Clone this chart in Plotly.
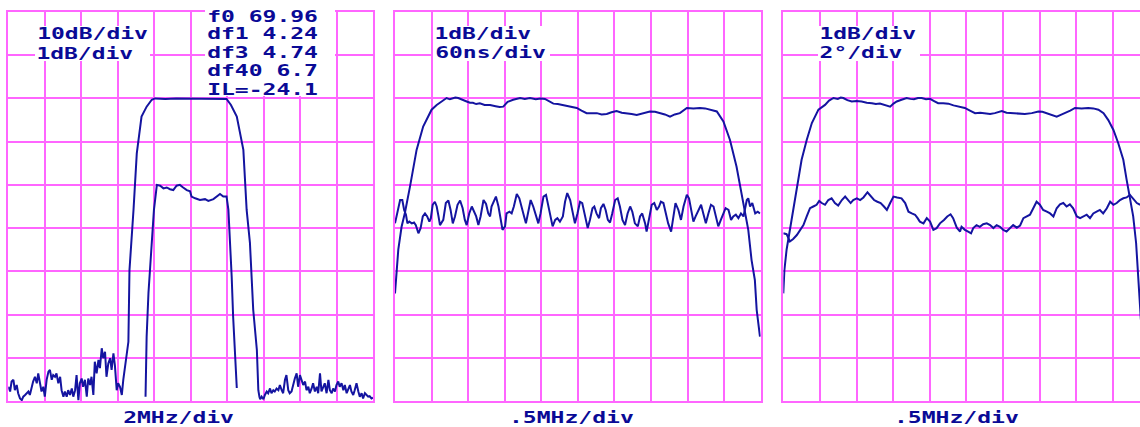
import plotly.graph_objects as go

# ---------------- data (units: screen divisions) ----------------
# Panel 1: 2 MHz/div; wide trace 10 dB/div, narrow trace 1 dB/div
p1_wide_x = [0.00, 0.05, 0.09, 0.14, 0.18, 0.23, 0.27, 0.32, 0.37, 0.41, 0.46, 0.50, 0.55, 0.59, 0.64,
             0.68, 0.73, 0.78, 0.82, 0.87, 0.91, 0.96, 1.00, 1.05, 1.10, 1.14, 1.19, 1.23, 1.28, 1.32,
             1.37, 1.42, 1.46, 1.51, 1.55, 1.60, 1.64, 1.69, 1.74, 1.78, 1.83, 1.87, 1.92, 1.96, 2.01,
             2.05, 2.10, 2.15, 2.19, 2.24, 2.28, 2.33, 2.37, 2.42, 2.47, 2.51, 2.56, 2.60, 2.65, 2.69,
             2.74, 2.79, 2.83, 2.88, 2.92, 2.97, 3.01, 3.06, 3.11, 3.15, 3.20, 3.24, 3.29,
             3.32, 3.38, 3.43, 3.52, 3.56, 3.65, 3.79, 3.93, 4.02, 4.30, 4.60, 5.00, 5.40, 5.70, 5.98,
             6.10, 6.26, 6.44, 6.53, 6.62, 6.71, 6.81, 6.85, 6.88,
             6.90, 6.94, 6.99, 7.03, 7.08, 7.12, 7.17, 7.21, 7.26, 7.30, 7.35, 7.40, 7.44, 7.49, 7.53,
             7.58, 7.62, 7.67, 7.71, 7.76, 7.81, 7.85, 7.90, 7.94, 7.99, 8.03, 8.08, 8.13, 8.17, 8.22,
             8.26, 8.31, 8.35, 8.40, 8.45, 8.49, 8.54, 8.58, 8.63, 8.67, 8.72, 8.77, 8.81, 8.86, 8.90,
             8.95, 8.99, 9.04, 9.08, 9.13, 9.18, 9.22, 9.27, 9.31, 9.36, 9.40, 9.45, 9.49, 9.54, 9.59,
             9.63, 9.68, 9.72, 9.77, 9.81, 9.86, 9.90, 9.95, 9.99]
p1_wide_y = [0.33, 0.22, 0.45, 0.49, 0.25, 0.37, 0.18, 0.06, 0.02, 0.10, 0.14, 0.18, 0.22, 0.14, 0.33,
             0.45, 0.56, 0.41, 0.64, 0.41, 0.22, 0.33, 0.10, 0.49, 0.68, 0.72, 0.49, 0.60, 0.56, 0.64,
             0.41, 0.56, 0.25, 0.10, 0.22, 0.10, 0.25, 0.14, 0.29, 0.10, 0.25, 0.60, 0.02, 0.41, 0.52,
             0.33, 0.49, 0.10, 0.52, 0.37, 0.56, 0.14, 0.91, 0.64, 0.95, 0.76, 1.22, 0.99, 1.14, 0.56,
             0.87, 0.99, 0.72, 1.10, 0.83, 0.25, 0.41, 0.33, 0.14, 0.49, 0.79, 1.10, 1.37,
             3.03, 3.96, 4.42, 5.73, 6.04, 6.58, 6.81, 6.97, 7.00, 6.99, 7.00, 7.00, 7.00, 6.99, 6.99,
             6.85, 6.58, 5.81, 4.42, 3.66, 2.11, 1.18, 0.25, 0.10,
             0.04, 0.10, 0.04, 0.14, 0.22, 0.18, 0.29, 0.18, 0.25, 0.22, 0.29, 0.25, 0.37, 0.25, 0.18,
             0.49, 0.60, 0.25, 0.18, 0.22, 0.41, 0.52, 0.64, 0.33, 0.60, 0.49, 0.37, 0.45, 0.25, 0.33,
             0.18, 0.29, 0.41, 0.22, 0.33, 0.18, 0.64, 0.22, 0.33, 0.41, 0.18, 0.49, 0.25, 0.18, 0.29,
             0.22, 0.37, 0.45, 0.33, 0.41, 0.25, 0.37, 0.18, 0.29, 0.37, 0.22, 0.14, 0.25, 0.41, 0.22,
             0.10, 0.18, 0.06, 0.18, 0.14, 0.10, 0.11, 0.06, 0.08]
p1_narrow_x = [3.76, 3.79, 3.84, 3.93, 3.99, 4.07, 4.16, 4.25, 4.34, 4.43, 4.52, 4.61, 4.70, 4.79, 4.89,
               4.98, 5.02, 5.12, 5.25, 5.39, 5.48, 5.62, 5.71, 5.80, 5.89, 5.98, 6.03, 6.07, 6.12, 6.16,
               6.21, 6.26]
p1_narrow_y = [0.10, 1.49, 2.50, 3.66, 4.42, 5.00, 4.98, 4.92, 4.94, 4.90, 4.88, 4.98, 5.00, 4.94, 4.88,
               4.85, 4.73, 4.69, 4.65, 4.67, 4.63, 4.67, 4.73, 4.79, 4.73, 4.73, 4.42, 3.80, 2.88, 1.95,
               0.95, 0.30]

# Panel 2: 0.5 MHz/div; amplitude 1 dB/div, group delay 60 ns/div
p2_amp_x = [0.00, 0.05, 0.09, 0.18, 0.27, 0.41, 0.59, 0.77, 1.00, 1.14, 1.28, 1.41, 1.50, 1.56, 1.65,
            1.73, 1.85, 1.96, 2.05, 2.13, 2.22, 2.32, 2.45, 2.60, 2.75, 2.86, 2.96, 3.08, 3.23, 3.32,
            3.42, 3.55, 3.69, 3.85, 3.98, 4.10, 4.20, 4.33, 4.45, 4.59, 4.72, 4.85, 4.97, 5.10, 5.24,
            5.38, 5.52, 5.65, 5.79, 5.92, 6.06, 6.20, 6.34, 6.47, 6.61, 6.79, 6.97, 7.11, 7.25, 7.38,
            7.52, 7.65, 7.79, 7.98, 8.16, 8.34, 8.48, 8.61, 8.80, 8.98, 9.16, 9.34, 9.48, 9.57, 9.66,
            9.75, 9.84, 9.89, 9.98]
p2_amp_y = [2.49, 3.03, 3.50, 4.03, 4.35, 4.96, 5.81, 6.35, 6.74, 6.85, 6.94, 7.01, 6.98, 6.99, 7.02,
            7.01, 6.96, 6.93, 6.90, 6.90, 6.87, 6.89, 6.85, 6.85, 6.82, 6.80, 6.81, 6.92, 6.97, 6.99,
            7.01, 6.99, 7.01, 6.98, 7.00, 6.99, 6.95, 6.88, 6.87, 6.85, 6.83, 6.80, 6.78, 6.72, 6.66,
            6.66, 6.66, 6.63, 6.64, 6.68, 6.71, 6.67, 6.66, 6.64, 6.62, 6.66, 6.70, 6.69, 6.66, 6.63,
            6.58, 6.63, 6.66, 6.78, 6.77, 6.78, 6.77, 6.74, 6.70, 6.47, 6.04, 5.42, 4.81, 4.35, 3.96,
            3.26, 2.80, 2.11, 1.49]
p2_delay_x = [0.00, 0.06, 0.14, 0.20, 0.25, 0.30, 0.34, 0.39, 0.46, 0.52, 0.57, 0.64, 0.70, 0.76, 0.82,
              0.88, 0.94, 0.98, 1.03, 1.09, 1.14, 1.19, 1.23, 1.32, 1.39, 1.46, 1.52, 1.58, 1.64, 1.71,
              1.78, 1.85, 1.91, 1.96, 2.03, 2.10, 2.16, 2.22, 2.28, 2.34, 2.42, 2.49, 2.55, 2.60, 2.64,
              2.76, 2.83, 2.89, 2.94, 3.01, 3.05, 3.13, 3.19, 3.25, 3.33, 3.40, 3.46, 3.53, 3.58, 3.65,
              3.71, 3.78, 3.86, 3.92, 3.98, 4.06, 4.13, 4.19, 4.26, 4.31, 4.38, 4.44, 4.51, 4.59, 4.65,
              4.71, 4.79, 4.86, 4.92, 4.99, 5.06, 5.12, 5.20, 5.27, 5.33, 5.40, 5.45, 5.51, 5.58, 5.63,
              5.70, 5.76, 5.82, 5.88, 5.94, 6.02, 6.09, 6.15, 6.22, 6.29, 6.36, 6.43, 6.49, 6.56, 6.64,
              6.70, 6.76, 6.84, 6.88, 6.95, 7.02, 7.09, 7.16, 7.22, 7.27, 7.34, 7.40, 7.47, 7.55, 7.61,
              7.67, 7.75, 7.82, 7.89, 7.98, 8.04, 8.09, 8.16, 8.22, 8.30, 8.37, 8.43, 8.50, 8.57, 8.64,
              8.71, 8.77, 8.84, 8.91, 8.98, 9.04, 9.12, 9.19, 9.25, 9.32, 9.39, 9.46, 9.53, 9.57, 9.62,
              9.66, 9.71, 9.77, 9.85, 9.92, 9.98]
p2_delay_y = [4.11, 4.38, 4.65, 4.65, 4.42, 4.31, 4.11, 4.15, 4.11, 4.13, 4.07, 3.88, 4.00, 4.27, 4.34,
              4.27, 4.15, 4.23, 4.54, 4.61, 4.50, 4.27, 4.07, 4.19, 4.58, 4.64, 4.42, 4.11, 4.27, 4.54,
              4.64, 4.46, 4.19, 4.07, 4.34, 4.50, 4.38, 4.27, 4.07, 4.27, 4.65, 4.56, 4.34, 4.27, 4.50,
              4.73, 4.50, 4.19, 3.96, 4.04, 4.34, 4.38, 4.34, 4.50, 4.79, 4.69, 4.46, 4.27, 4.11, 4.42,
              4.65, 4.50, 4.27, 4.11, 4.34, 4.73, 4.77, 4.50, 4.27, 4.04, 4.19, 4.23, 4.15, 4.27, 4.61,
              4.81, 4.65, 4.34, 4.11, 4.34, 4.61, 4.58, 4.27, 4.00, 4.19, 4.46, 4.50, 4.34, 4.23, 4.46,
              4.56, 4.42, 4.19, 4.13, 4.34, 4.65, 4.69, 4.50, 4.19, 4.07, 4.34, 4.50, 4.38, 4.11, 4.04,
              4.27, 4.34, 4.11, 3.92, 4.19, 4.54, 4.58, 4.42, 4.50, 4.61, 4.58, 4.34, 4.11, 3.92, 4.27,
              4.58, 4.42, 4.19, 4.50, 4.77, 4.69, 4.42, 4.15, 4.27, 4.42, 4.54, 4.34, 4.11, 4.34, 4.54,
              4.50, 4.31, 4.04, 4.19, 4.34, 4.46, 4.42, 4.19, 4.27, 4.31, 4.23, 4.34, 4.27, 4.46, 4.65,
              4.69, 4.50, 4.58, 4.34, 4.38, 4.34]

# Panel 3: 0.5 MHz/div; amplitude 1 dB/div, phase deviation 2 deg/div
p3_amp_x = [0.00, 0.03, 0.09, 0.18, 0.23, 0.37, 0.50, 0.64, 0.78, 0.96, 1.14, 1.25, 1.37, 1.49, 1.57,
            1.64, 1.75, 1.87, 2.00, 2.14, 2.28, 2.42, 2.53, 2.64, 2.78, 2.92, 3.01, 3.10, 3.23, 3.37,
            3.47, 3.57, 3.68, 3.78, 3.90, 4.01, 4.12, 4.23, 4.37, 4.51, 4.65, 4.78, 4.96, 5.10, 5.24,
            5.38, 5.51, 5.65, 5.78, 5.97, 6.10, 6.24, 6.42, 6.60, 6.79, 6.97, 7.08, 7.20, 7.33, 7.47,
            7.58, 7.70, 7.84, 7.97, 8.15, 8.33, 8.47, 8.61, 8.75, 8.88, 9.02, 9.15, 9.29, 9.38, 9.47,
            9.56, 9.64, 9.70, 9.74, 9.77]
p3_amp_y = [2.49, 3.03, 3.50, 3.96, 4.19, 4.96, 5.58, 6.04, 6.43, 6.74, 6.85, 6.95, 7.01, 6.99, 7.02,
            7.01, 6.96, 6.93, 6.94, 6.93, 6.90, 6.89, 6.87, 6.88, 6.84, 6.81, 6.88, 6.93, 6.97, 7.01,
            6.99, 6.98, 7.01, 7.01, 6.98, 6.99, 6.94, 6.89, 6.89, 6.88, 6.84, 6.81, 6.78, 6.72, 6.66,
            6.67, 6.66, 6.64, 6.66, 6.71, 6.67, 6.66, 6.64, 6.64, 6.66, 6.70, 6.69, 6.66, 6.62, 6.58,
            6.62, 6.66, 6.72, 6.78, 6.77, 6.78, 6.77, 6.74, 6.66, 6.50, 6.27, 5.97, 5.58, 5.12, 4.65,
            4.27, 3.65, 2.88, 2.34, 1.88]
p3_phase_x = [0.00, 0.09, 0.18, 0.27, 0.37, 0.46, 0.55, 0.64, 0.73, 0.82, 0.91, 0.98, 1.05, 1.14, 1.23,
              1.32, 1.41, 1.50, 1.60, 1.69, 1.78, 1.84, 1.91, 2.01, 2.10, 2.19, 2.30, 2.39, 2.48, 2.57,
              2.66, 2.75, 2.83, 2.92, 3.01, 3.11, 3.23, 3.33, 3.42, 3.51, 3.60, 3.67, 3.73, 3.83, 3.92,
              4.01, 4.10, 4.19, 4.28, 4.39, 4.48, 4.57, 4.64, 4.74, 4.83, 4.87, 4.96, 5.05, 5.13, 5.19,
              5.28, 5.37, 5.46, 5.56, 5.65, 5.74, 5.83, 5.92, 6.01, 6.10, 6.19, 6.28, 6.38, 6.47, 6.56,
              6.65, 6.74, 6.83, 6.92, 7.01, 7.10, 7.20, 7.29, 7.38, 7.47, 7.56, 7.65, 7.74, 7.83, 7.92,
              8.02, 8.11, 8.20, 8.29, 8.38, 8.47, 8.56, 8.65, 8.74, 8.84, 8.93, 9.02, 9.11, 9.20, 9.29,
              9.38, 9.47, 9.56, 9.66, 9.75]
p3_phase_y = [3.88, 3.86, 3.69, 3.75, 3.84, 3.96, 4.07, 4.27, 4.46, 4.50, 4.54, 4.63, 4.58, 4.54, 4.65,
              4.69, 4.58, 4.52, 4.65, 4.73, 4.65, 4.58, 4.65, 4.69, 4.65, 4.71, 4.83, 4.73, 4.65, 4.61,
              4.58, 4.50, 4.42, 4.58, 4.73, 4.71, 4.69, 4.58, 4.38, 4.34, 4.31, 4.23, 4.15, 4.11, 4.23,
              4.15, 3.96, 4.00, 4.11, 4.19, 4.27, 4.32, 4.23, 4.01, 3.92, 4.03, 3.96, 3.92, 3.88, 4.00,
              4.07, 4.03, 4.09, 4.11, 4.07, 4.00, 4.07, 4.03, 3.96, 3.92, 4.00, 4.07, 4.01, 4.06, 4.23,
              4.27, 4.31, 4.46, 4.61, 4.54, 4.42, 4.38, 4.34, 4.27, 4.46, 4.55, 4.58, 4.50, 4.55, 4.46,
              4.27, 4.23, 4.27, 4.31, 4.23, 4.34, 4.38, 4.42, 4.34, 4.46, 4.61, 4.54, 4.58, 4.65, 4.69,
              4.71, 4.77, 4.69, 4.58, 4.54]

# Screen annotations
p1_scale_left = ["10dB/div", "1dB/div"]
p1_readout = ["f0 69.96", "df1 4.24", "df3 4.74", "df40 6.7", "IL=-24.1"]
p2_scale = ["1dB/div", "60ns/div"]
p3_scale = ["1dB/div", "2°/div"]
x_scales = ["2MHz/div", ".5MHz/div", ".5MHz/div"]

# ---------------- figure ----------------
GRID = "#FF66FF"
TRACE = "#1414A0"
TEXT = "#0A0A96"
W, H = 1140, 427
FS = 16            # font size
ADV = 14.1         # character pitch of the instrument font (px)
GAP = 2.0          # blank after the last glyph in a cell

fig = go.Figure()
line = dict(color=TRACE, width=2)
fig.add_trace(go.Scatter(x=p1_wide_x, y=p1_wide_y, mode="lines", line=line, xaxis="x", yaxis="y"))
fig.add_trace(go.Scatter(x=p1_narrow_x, y=p1_narrow_y, mode="lines", line=line, xaxis="x", yaxis="y"))
fig.add_trace(go.Scatter(x=p2_amp_x, y=p2_amp_y, mode="lines", line=line, xaxis="x2", yaxis="y2"))
fig.add_trace(go.Scatter(x=p2_delay_x, y=p2_delay_y, mode="lines", line=line, xaxis="x2", yaxis="y2"))
fig.add_trace(go.Scatter(x=p3_amp_x, y=p3_amp_y, mode="lines", line=line, xaxis="x3", yaxis="y3"))
fig.add_trace(go.Scatter(x=p3_phase_x, y=p3_phase_y, mode="lines", line=line, xaxis="x3", yaxis="y3"))

ytop, ybot = 12.0, 401.0
ydom = [1 - ybot / H, 1 - ytop / H]
panels = [
    (8.3, 373.3, [0, 10], True),
    (395.0, 760.7, [0, 10], True),
    (783.3, 1140.0, [0, (1140.0 - 783.3) / 36.6], False),
]

def xax(dom, rng, anchor):
    return dict(domain=dom, range=rng, tick0=0, dtick=1, showgrid=True, gridcolor=GRID, gridwidth=2,
                showticklabels=False, ticks="", zeroline=False, showline=True, linecolor=GRID,
                linewidth=2, mirror=True, anchor=anchor, fixedrange=True)

def yax(rng, anchor, mirror):
    return dict(domain=ydom, range=rng, tick0=0, dtick=1, showgrid=True, gridcolor=GRID, gridwidth=2,
                showticklabels=False, ticks="", zeroline=False, showline=True, linecolor=GRID,
                linewidth=2, mirror=mirror, anchor=anchor, fixedrange=True)

layout = dict(width=W, height=H, margin=dict(l=0, r=0, t=0, b=0), showlegend=False,
              paper_bgcolor="white", plot_bgcolor="white")
for i, (l, r, rng, mir) in enumerate(panels):
    sx = "" if i == 0 else str(i + 1)
    layout["xaxis" + sx] = xax([l / W, min(r / W, 1.0)], rng, "y" + sx)
    layout["yaxis" + sx] = yax([0, 9], "x" + sx, mir)
fig.update_layout(**layout)

# white blanking boxes behind the on-screen text blocks (px: x0, x1, y0, y1)
for x0, x1, y0, y1 in [(35, 150, 26, 61), (205, 335, 0, 96), (433, 550, 26, 61), (818, 920, 26, 61)]:
    fig.add_shape(type="rect", xref="paper", yref="paper", x0=x0 / W, x1=x1 / W,
                  y0=1 - y1 / H, y1=1 - y0 / H, fillcolor="white", line=dict(width=0), layer="above")

font = dict(family="DejaVu Sans Mono, Liberation Mono, monospace", size=FS, color=TEXT, weight="bold")

def label(txt, px, py, left=True):
    width = len(txt) * ADV - GAP
    cx = px + width / 2 if left else px
    fig.add_annotation(text=txt, x=cx / W, y=1 - py / H, xref="paper", yref="paper",
                       xanchor="center", yanchor="middle", showarrow=False, font=font)

for t, py in zip(p1_scale_left, [34, 53]):
    label(t, 36.7, py)
for t, py in zip(p1_readout, [16, 34, 52.5, 71, 89]):
    label(t, 206.7, py)
for t, py in zip(p2_scale, [34, 52.5]):
    label(t, 435.0, py)
for t, py in zip(p3_scale, [34, 52.5]):
    label(t, 820.0, py)
for t, px in zip(x_scales, [178.3, 571.7, 956.7]):
    label(t, px, 417.5, left=False)

# widen the glyphs to the instrument's character pitch (wide bitmap screen font)
post = (
    "document.body.style.margin='0';"
    "document.querySelectorAll('text.annotation-text').forEach(function(t){"
    "var n=t.textContent.length;"
    "t.setAttribute('textLength',(n*%.2f-%.2f).toFixed(1));"
    "t.setAttribute('lengthAdjust','spacingAndGlyphs');});" % (ADV, GAP)
)
fig.write_html("out.html", post_script=post, config={"displayModeBar": False})
